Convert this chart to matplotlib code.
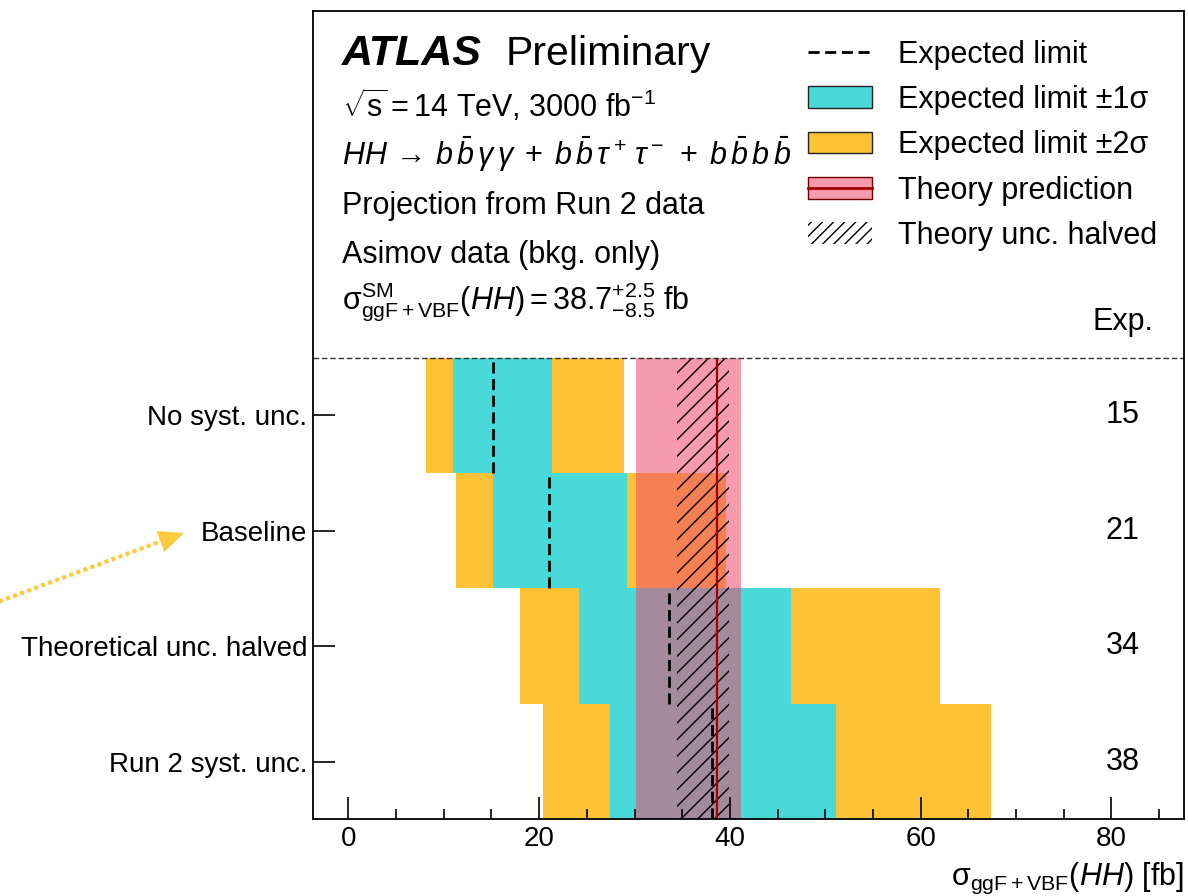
import numpy as np
import matplotlib
matplotlib.use('Agg')
import matplotlib.pyplot as plt
from matplotlib.patches import Patch, FancyArrowPatch
from matplotlib.lines import Line2D

plt.rcParams['font.family'] = ['Liberation Sans', 'DejaVu Sans']
plt.rcParams['mathtext.fontset'] = 'custom'
plt.rcParams['mathtext.rm'] = 'Liberation Sans'
plt.rcParams['mathtext.it'] = 'Liberation Sans:italic'
plt.rcParams['mathtext.bf'] = 'Liberation Sans:bold'
plt.rcParams['hatch.linewidth'] = 1.0

# scenarios, listed top to bottom
scenarios = ["No syst. unc.", "Baseline", "Theoretical unc. halved", "Run 2 syst. unc."]
exp_limit = [15.2, 21.05, 33.6, 38.1]
sig1_lo = [11.0, 15.15, 24.2, 27.45]
sig1_hi = [21.3, 29.25, 46.45, 51.1]
sig2_lo = [8.15, 11.25, 18.0, 20.4]
sig2_hi = [28.9, 39.55, 62.0, 67.4]

# SM ggF+VBF HH cross section [fb]
xs_sm = 38.7
xs_up = 2.5
xs_dn = 8.5

info_lines = [
    r"$\sqrt{\mathrm{s}} = 14$ TeV, 3000 fb$^{-1}$",
    r"$HH \,\rightarrow\, b\,\bar{b}\,\gamma\,\gamma \;+\; b\,\bar{b}\,\tau^+\,\tau^- \;+\; b\,\bar{b}\,b\,\bar{b}$",
    "Projection from Run 2 data",
    "Asimov data (bkg. only)",
    r"$\mathrm{\sigma}^{\mathrm{SM}}_{\mathrm{ggF+VBF}}(HH) = 38.7^{+2.5}_{-8.5}$ fb",
]
info_y = [0.8690, 0.8096, 0.7492, 0.6879, 0.6323]

c_1sig = '#4ad9d9'
c_2sig = '#fdc236'
c_theo = (0.93, 0.29, 0.42, 0.55)
c_line = '#a50000'
c_arrow = '#fdca40'

fig = plt.figure(figsize=(11.88, 8.96), dpi=100)
ax = fig.add_axes([0.2635, 0.0854, 0.7331, 0.9023])

n = len(scenarios)
ypos = np.arange(n)[::-1]
lo1, hi1 = np.array(sig1_lo), np.array(sig1_hi)
lo2, hi2 = np.array(sig2_lo), np.array(sig2_hi)
ybot, ytop = -0.5, n - 0.5

ax.barh(ypos, hi2 - lo2, left=lo2, height=1.0, color=c_2sig, lw=0, zorder=1)
ax.barh(ypos, hi1 - lo1, left=lo1, height=1.0, color=c_1sig, lw=0, zorder=2)
ax.fill_betweenx([ybot, ytop], xs_sm - xs_dn, xs_sm + xs_up, color=c_theo, lw=0, zorder=3)
ax.fill_betweenx([ybot, ytop], xs_sm - xs_dn / 2, xs_sm + xs_up / 2,
                 facecolor='none', edgecolor='k', hatch='//', lw=0, zorder=4)
ax.vlines(exp_limit, ypos - 0.5, ypos + 0.5, colors='k', linestyles=(0, (4, 2)), lw=2, zorder=5)
ax.vlines(xs_sm, ybot, ytop, colors=c_line, lw=1.6, zorder=6)
ax.axhline(ytop, color='#333333', lw=1, ls=(0, (4, 2)), zorder=6)

# expected limit column
ax.text(81.2, ytop + 0.31, "Exp.", ha='center', va='center', fontsize=22)
for y, v in zip(ypos, exp_limit):
    ax.text(81.2, y, f"{v:.0f}", ha='center', va='center', fontsize=22)

ax.set_xlim(-3.7, 87.6)
ax.set_ylim(-0.5, 6.5)
ax.set_yticks(ypos)
ax.set_yticklabels(scenarios, fontsize=20)
ax.set_xticks([0, 20, 40, 60, 80])
ax.set_xticks(np.arange(0, 90, 5), minor=True)
ax.tick_params(axis='x', which='major', direction='in', length=16, width=1.2,
               labelsize=20, pad=5, top=False)
ax.tick_params(axis='x', which='minor', direction='in', length=7.5, width=1.2, top=False)
ax.tick_params(axis='y', which='major', direction='in', length=16, width=1.2, pad=4, right=False)
ax.tick_params(axis='y', which='minor', left=False, right=False)
ax.xaxis.set_zorder(10)
ax.yaxis.set_zorder(10)
for s in ax.spines.values():
    s.set_linewidth(1.3)
    s.set_zorder(10)

ax.set_xlabel(r"$\mathrm{\sigma}_{\mathrm{ggF+VBF}}(HH)$ [fb]", fontsize=22, loc='right', labelpad=6)

# ATLAS label and info block
ax.text(0.033, 0.9332, "ATLAS", transform=ax.transAxes, fontsize=31,
        fontweight='bold', fontstyle='italic', va='baseline')
ax.text(0.2216, 0.9332, "Preliminary", transform=ax.transAxes, fontsize=29.5, va='baseline')
for txt, y in zip(info_lines, info_y):
    ax.text(0.033, y, txt, transform=ax.transAxes, fontsize=22, va='baseline')

handles = [
    Line2D([], [], color='k', ls=(0, (4, 2)), lw=2),
    Patch(facecolor=c_1sig, edgecolor='#222222', lw=1),
    Patch(facecolor=c_2sig, edgecolor='#222222', lw=1),
    (Patch(facecolor=c_theo, edgecolor='#700000', lw=1), Line2D([], [], color=c_line, lw=2)),
    Patch(facecolor='none', edgecolor='k', hatch='///', lw=0),
]
labels = ["Expected limit", "Expected limit ±1σ", "Expected limit ±2σ",
          "Theory prediction", "Theory unc. halved"]
ax.legend(handles, labels, loc='upper left', bbox_to_anchor=(0.568, 0.9645),
          frameon=False, fontsize=22, handlelength=2.1, handleheight=0.72,
          handletextpad=0.85, labelspacing=0.50, borderpad=0, borderaxespad=0)

# dotted pointer towards the baseline scenario
W, H = 1188.0, 896.0
fig.add_artist(Line2D([-5 / W, 159 / W], [1 - 603 / H, 1 - 542 / H], transform=fig.transFigure,
                      color=c_arrow, lw=3, ls=(0, (1, 0.8)), dash_capstyle='butt'))
fig.add_artist(FancyArrowPatch((150 / W, 1 - 545.3 / H), (184 / W, 1 - 533 / H),
                               transform=fig.transFigure,
                               arrowstyle='-|>,head_length=0.45,head_width=0.2',
                               mutation_scale=40, lw=0, color=c_arrow,
                               shrinkA=0, shrinkB=0))

fig.savefig('out.png', dpi=100)
